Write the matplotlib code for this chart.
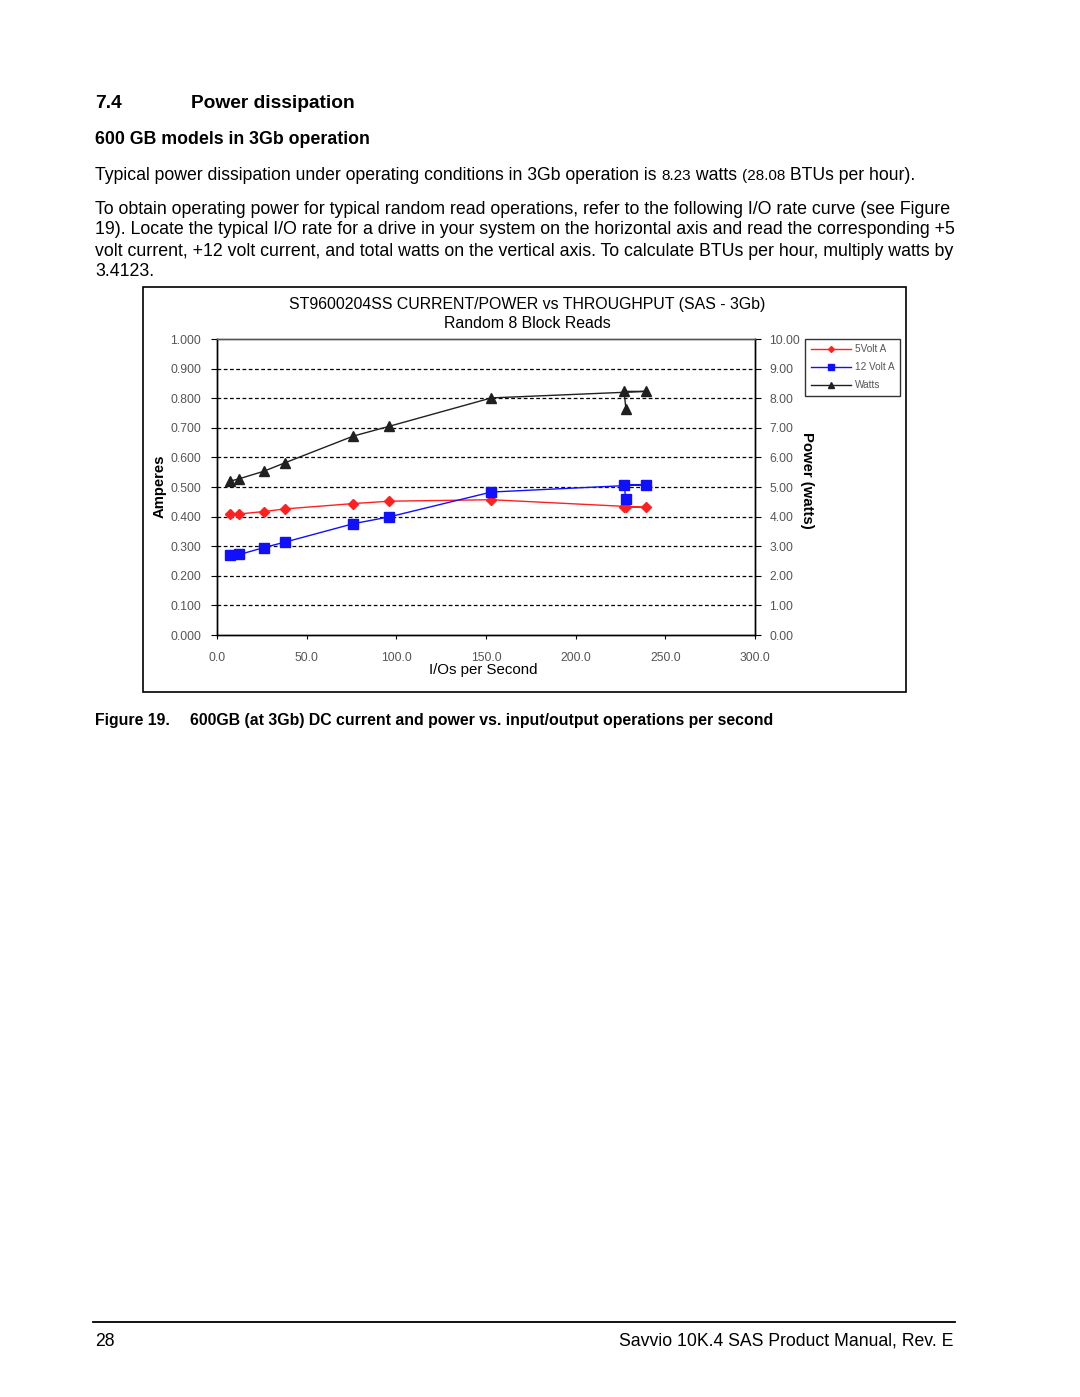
import matplotlib
matplotlib.use('Agg')
import matplotlib.pyplot as plt
from matplotlib.patches import Rectangle
from matplotlib.lines import Line2D

plt.rcParams['font.family'] = ['Liberation Sans', 'DejaVu Sans']

# I/O rate (IOPS) for each measured point, in the order the lines were drawn
iops = [7.5, 12.5, 26, 38, 76, 96, 153, 239, 227, 228]
volt5_amps = [0.409, 0.409, 0.417, 0.426, 0.444, 0.452, 0.457, 0.431, 0.432, 0.432]
volt12_amps = [0.269, 0.272, 0.295, 0.314, 0.376, 0.399, 0.483, 0.508, 0.508, 0.458]
watts = [5.20, 5.28, 5.53, 5.82, 6.72, 7.05, 8.01, 8.23, 8.23, 7.65]

amp_ticks = [i / 10 for i in range(11)]
watt_ticks = list(range(11))
x_ticks = [0, 50, 100, 150, 200, 250, 300]

W, H = 1080, 1397
fig = plt.figure(figsize=(W / 100, H / 100), dpi=100)
renderer = fig.canvas.get_renderer()

def fx(px):
    return px / W

def fy(py):
    return 1 - py / H

# page text
fig.text(fx(95), fy(103), '7.4', fontsize=13.8, fontweight='bold', va='center')
fig.text(fx(191), fy(103), 'Power dissipation', fontsize=13.8, fontweight='bold', va='center')
fig.text(fx(95), fy(139), '600 GB models in 3Gb operation', fontsize=12.8, fontweight='bold', va='center')

# sentence with the numbers set a bit smaller, as in the manual
pieces = [('Typical power dissipation under operating conditions in 3Gb operation is ', 12.7),
          ('8.23', 11.0), (' watts ', 12.7), ('(28.08', 11.0), (' BTUs per hour).', 12.7)]
xpos = 95
for txt, size in pieces:
    t = fig.text(fx(xpos), fy(180), txt, fontsize=size, va='baseline')
    xpos = t.get_window_extent(renderer).x1

body = ['To obtain operating power for typical random read operations, refer to the following I/O rate curve (see Figure',
        '19). Locate the typical I/O rate for a drive in your system on the horizontal axis and read the corresponding +5',
        'volt current, +12 volt current, and total watts on the vertical axis. To calculate BTUs per hour, multiply watts by',
        '3.4123.']
for i, line in enumerate(body):
    fig.text(fx(95), fy(209 + 21 * i), line, fontsize=12.75, va='center')

# chart frame
fig.patches.append(Rectangle((fx(143), fy(692)), fx(906) - fx(143), fy(287) - fy(692),
                             transform=fig.transFigure, fill=False, edgecolor='black', linewidth=1.2))

fig.text(fx(527), fy(304), 'ST9600204SS CURRENT/POWER vs THROUGHPUT (SAS - 3Gb)', fontsize=11.4, ha='center', va='center')
fig.text(fx(527), fy(323), 'Random 8 Block Reads', fontsize=11.4, ha='center', va='center')

ax = fig.add_axes([fx(217), fy(635), fx(755) - fx(217), fy(339) - fy(635)])
ax2 = ax.twinx()

ax.plot(iops, volt5_amps, color='#ff2020', linewidth=1, marker='D', markersize=5, zorder=3)
ax.plot(iops, volt12_amps, color='#1010ff', linewidth=1, marker='s', markersize=7.5, zorder=3)
ax2.plot(iops, watts, color='#202020', linewidth=1, marker='^', markersize=7)

ax.set_xlim(0, 300)
ax.set_ylim(0, 1)
ax2.set_ylim(0, 10)
ax.set_xticks(x_ticks)
ax.set_xticklabels([f'{v:.1f}' for v in x_ticks])
ax.set_yticks(amp_ticks)
ax.set_yticklabels([f'{v:.3f}' for v in amp_ticks])
ax2.set_yticks(watt_ticks)
ax2.set_yticklabels([f'{v:.2f}' for v in watt_ticks])

for v in amp_ticks[1:-1]:
    ax.axhline(v, color='black', linewidth=0.9, linestyle=(0, (3, 2)), zorder=1)

for a in (ax, ax2):
    for s in a.spines.values():
        s.set_linewidth(1)
    a.spines['top'].set_color('#555555')
ax.tick_params(axis='y', direction='out', length=4, pad=7.5, labelsize=8.7, labelcolor='#555555')
ax.tick_params(axis='x', direction='out', length=3, pad=9, labelsize=8.7, labelcolor='#555555')
ax2.tick_params(axis='y', direction='out', length=4, pad=6.5, labelsize=8.7, labelcolor='#555555')

fig.text(fx(483), fy(670), 'I/Os per Second', fontsize=10.8, ha='center', va='center')
fig.text(fx(160), fy(486), 'Amperes', fontsize=10.7, fontweight='bold', rotation=90, ha='center', va='center')
fig.text(fx(807), fy(480), 'Power (watts)', fontsize=10.7, fontweight='bold', rotation=270, ha='center', va='center')

handles = [Line2D([], [], color='#ff2020', linewidth=1, marker='D', markersize=3),
           Line2D([], [], color='#1010ff', linewidth=1, marker='s', markersize=4.5),
           Line2D([], [], color='#202020', linewidth=1, marker='^', markersize=4.5)]
leg = fig.legend(handles, ['5Volt A', '12 Volt A', 'Watts'], loc='upper left',
                 bbox_to_anchor=(fx(805), fy(339)), borderaxespad=0, fontsize=7.2, frameon=True,
                 fancybox=False, handlelength=4.0, borderpad=0.55, labelspacing=0.8, handletextpad=0.45)
leg.get_frame().set_edgecolor('black')
leg.get_frame().set_linewidth(1)
for t in leg.get_texts():
    t.set_color('#555555')

# caption
fig.text(fx(95), fy(720), 'Figure 19.', fontsize=11.4, fontweight='bold', va='center')
fig.text(fx(190), fy(720), '600GB (at 3Gb) DC current and power vs. input/output operations per second',
         fontsize=11.4, fontweight='bold', va='center')

# footer
fig.add_artist(Line2D([fx(93), fx(955)], [fy(1322), fy(1322)], color='black', linewidth=1.3))
fig.text(fx(95), fy(1341), '28', fontsize=12.7, va='center')
fig.text(fx(953), fy(1341), 'Savvio 10K.4 SAS Product Manual, Rev. E', fontsize=12.7, ha='right', va='center')

fig.savefig('out.png', dpi=100)
